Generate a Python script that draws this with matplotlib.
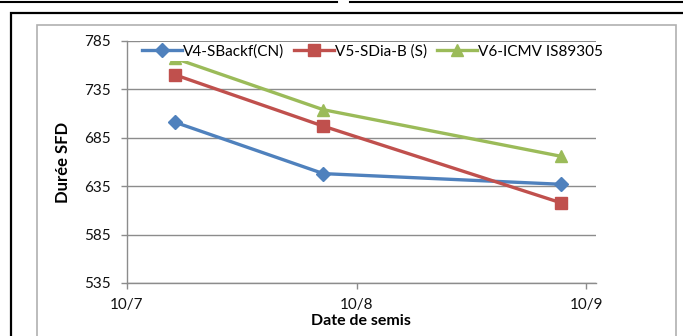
import matplotlib
matplotlib.use('Agg')
import matplotlib.pyplot as plt
from matplotlib.patches import Rectangle
from matplotlib.lines import Line2D
import pandas as pd

# sowing dates (day/month) and SFD durations
dates = pd.to_datetime(['2013-07-16', '2013-08-05', '2013-09-06'])
v4_sbackf = [701, 648, 637]
v5_sdia = [750, 697, 618]
v6_icmv = [767, 714, 666]
series_names = ['V4-SBackf(CN)', 'V5-SDia-B (S)', 'V6-ICMV IS89305']

xticks = pd.to_datetime(['2013-07-10', '2013-08-10', '2013-09-10'])
xtick_labels = ['10/7', '10/8', '10/9']
yticks = [535, 585, 635, 685, 735, 785]

plt.rcParams['font.family'] = ['Lato', 'DejaVu Sans']

W, H = 683, 336
fig = plt.figure(figsize=(W / 100, H / 100), dpi=100)

# frames around the chart (pieces of the page layout)
fig.add_artist(Line2D([0, 337 / W], [1 - 1.5 / H] * 2, color='black', lw=1.5))
fig.add_artist(Line2D([350 / W, 1], [1 - 1.5 / H] * 2, color='black', lw=1.5))
fig.add_artist(Rectangle((11 / W, -0.1), 1.2, 1.1 - 13 / H, fill=False,
                         edgecolor='black', lw=1.6))
fig.add_artist(Rectangle((37 / W, -0.1), (676 - 37) / W, 1.1 - 25 / H, fill=False,
                         edgecolor='#b0b0b0', lw=1.2))

ax = fig.add_axes([127 / W, 1 - 283 / H, (595.7 - 127) / W, (283 - 41) / H])

# Excel date axis puts each point in the middle of its day
x = dates + pd.Timedelta(hours=12)
colors = ['#4f81bd', '#c0504d', '#9bbb59']
markers = ['D', 's', '^']
msizes = [7, 8, 8.5]
for vals, c, m, ms, name in zip([v4_sbackf, v5_sdia, v6_icmv], colors, markers, msizes, series_names):
    ax.plot(x, vals, color=c, lw=2.4, marker=m, ms=ms, label=name, zorder=3)

ax.set_xlim(pd.Timestamp('2013-07-10'), pd.Timestamp('2013-09-11 06:00'))
ax.set_ylim(535, 785)
ax.set_yticks(yticks)
ax.set_xticks(xticks)
ax.set_xticklabels(xtick_labels)
ax.grid(axis='y', color='#8c8c8c', lw=1.0)
ax.set_axisbelow(True)
for s in ['top', 'right']:
    ax.spines[s].set_visible(False)
for s in ['left', 'bottom']:
    ax.spines[s].set_color('#8c8c8c')
    ax.spines[s].set_linewidth(1.0)
ax.tick_params(axis='both', colors='#8c8c8c', labelcolor='#111111', labelsize=11,
               length=4.5, width=1.0)
ax.tick_params(axis='y', pad=7.5)
ax.tick_params(axis='x', pad=6)

ax.set_ylabel('Durée SFD', fontsize=12, fontweight='bold', labelpad=9)
ax.set_xlabel('Date de semis', fontsize=11.5, fontweight='bold', labelpad=2)

leg = ax.legend(loc='center', bbox_to_anchor=(372.5 / W, 1 - 51.5 / H),
                bbox_transform=fig.transFigure, ncol=3, fontsize=11,
                frameon=True, fancybox=False, borderpad=0.12, handlelength=2.6,
                handletextpad=0.08, columnspacing=0.65, borderaxespad=0)
leg.get_frame().set_facecolor('white')
leg.get_frame().set_edgecolor('none')
leg.get_frame().set_alpha(1)
leg.set_zorder(5)

fig.savefig('out.png', dpi=100)
